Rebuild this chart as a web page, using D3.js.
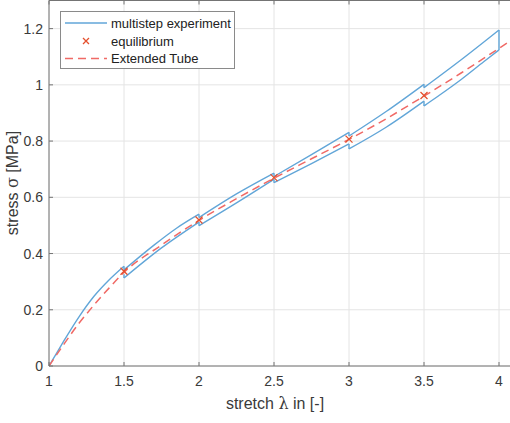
<!DOCTYPE html>
<html>
<head>
<meta charset="utf-8">
<script src="https://cdn.jsdelivr.net/npm/d3@7"></script>
<style>
  body { margin: 0; background: #fff; }
  text { font-family: "Liberation Sans", Arial, sans-serif; }
</style>
</head>
<body>
<svg id="chart" width="510" height="423"></svg>
<script>
'use strict';

// tick labels
const xTicks = [1, 1.5, 2, 2.5, 3, 3.5, 4];
const yTicks = [0, 0.2, 0.4, 0.6, 0.8, 1, 1.2];

// multistep experiment, loading branch: one piece per stretch step [lambda, stress]
const loadingPieces = [
  [[1, 0], [1.05, 0.045], [1.1, 0.09], [1.2, 0.175], [1.3, 0.248], [1.4, 0.306], [1.5, 0.355]],
  [[1.5, 0.342], [1.7, 0.43], [1.85, 0.49], [2, 0.54]],
  [[2, 0.528], [2.25, 0.612], [2.5, 0.686]],
  [[2.5, 0.674], [2.75, 0.752], [3, 0.831]],
  [[3, 0.818], [3.25, 0.906], [3.5, 1.002]],
  [[3.5, 0.99], [3.75, 1.09], [4, 1.195]],
];
// unloading branch, read from lambda = 4 back to 1.5
const unloadingPieces = [
  [[4, 1.124], [3.9, 1.083], [3.75, 1.02], [3.6, 0.962], [3.5, 0.925]],
  [[3.5, 0.942], [3.25, 0.85], [3, 0.772]],
  [[3, 0.79], [2.75, 0.72], [2.5, 0.652]],
  [[2.5, 0.664], [2.25, 0.58], [2, 0.499]],
  [[2, 0.512], [1.75, 0.42], [1.5, 0.313]],
  [[1.5, 0.326]],
];

// equilibrium points
const eqStretch = [1.5, 2, 2.5, 3, 3.5];
const eqStress = [0.337, 0.519, 0.67, 0.807, 0.962];

// extended tube model
const tubeStretch = [1, 1.1, 1.2, 1.3, 1.4, 1.5, 1.75, 2, 2.25, 2.5, 2.75, 3, 3.25, 3.5, 3.75, 4, 4.1];
const tubeStress = [0, 0.078, 0.152, 0.217, 0.277, 0.333, 0.43, 0.518, 0.595, 0.668, 0.737, 0.806, 0.88, 0.96, 1.043, 1.13, 1.165];

const blue = '#62a6d8';
const red = '#f06a66';
const axisColor = '#747474';
const textColor = '#3a3a3a';

const svg = d3.select('#chart');
const x = d3.scaleLinear().domain([1, 4.1]).range([49, 514]);
const y = d3.scaleLinear().domain([0, 1.3]).range([366, 0.5]);

// grid
svg.append('g')
  .selectAll('line')
  .data(xTicks)
  .join('line')
  .attr('x1', (d) => x(d)).attr('x2', (d) => x(d))
  .attr('y1', y(0)).attr('y2', y(1.3))
  .attr('stroke', '#e4e4e4');
svg.append('g')
  .selectAll('line')
  .data(yTicks)
  .join('line')
  .attr('x1', x(1)).attr('x2', x(4.1))
  .attr('y1', (d) => y(d)).attr('y2', (d) => y(d))
  .attr('stroke', '#e4e4e4');

// plot content, clipped to axes
svg.append('clipPath').attr('id', 'clip')
  .append('rect')
  .attr('x', x(1)).attr('y', y(1.3))
  .attr('width', x(4.1) - x(1)).attr('height', y(0) - y(1.3));
const plot = svg.append('g').attr('clip-path', 'url(#clip)');

const smooth = d3.line()
  .x((d) => x(d[0]))
  .y((d) => y(d[1]))
  .curve(d3.curveMonotoneX);
const straight = d3.line()
  .x((d) => x(d[0]))
  .y((d) => y(d[1]));

// experiment: smooth pieces, joined by the relaxation jumps
const pieces = loadingPieces.concat(unloadingPieces);
pieces.forEach((p) => {
  if (p.length > 1) {
    plot.append('path')
      .attr('d', smooth(p))
      .attr('fill', 'none')
      .attr('stroke', blue)
      .attr('stroke-width', 1.4);
  }
});
for (let i = 0; i < pieces.length - 1; i++) {
  const a = pieces[i][pieces[i].length - 1];
  const b = pieces[i + 1][0];
  plot.append('path')
    .attr('d', straight([a, b]))
    .attr('fill', 'none')
    .attr('stroke', blue)
    .attr('stroke-width', 1.4);
}

// extended tube
plot.append('path')
  .attr('d', smooth(tubeStretch.map((d, i) => [d, tubeStress[i]])))
  .attr('fill', 'none')
  .attr('stroke', red)
  .attr('stroke-width', 1.5)
  .attr('stroke-dasharray', '8,5');

// equilibrium crosses
const cross = (g, cx, cy, r) => {
  g.append('path')
    .attr('d', `M${cx - r},${cy - r}L${cx + r},${cy + r}M${cx - r},${cy + r}L${cx + r},${cy - r}`)
    .attr('stroke', '#e4502e')
    .attr('stroke-width', 1.3);
};
eqStretch.forEach((d, i) => cross(plot, x(d), y(eqStress[i]), 3.5));

// axes box lines
svg.append('line')
  .attr('x1', x(1)).attr('x2', x(4.1)).attr('y1', y(0)).attr('y2', y(0))
  .attr('stroke', axisColor);
svg.append('line')
  .attr('x1', x(1)).attr('x2', x(4.1)).attr('y1', y(1.3)).attr('y2', y(1.3))
  .attr('stroke', axisColor);
svg.append('line')
  .attr('x1', x(1)).attr('x2', x(1)).attr('y1', y(0)).attr('y2', y(1.3))
  .attr('stroke', axisColor);

// ticks (inward) and labels
xTicks.forEach((t) => {
  svg.append('line')
    .attr('x1', x(t)).attr('x2', x(t)).attr('y1', y(0)).attr('y2', y(0) - 4)
    .attr('stroke', axisColor);
  svg.append('line')
    .attr('x1', x(t)).attr('x2', x(t)).attr('y1', y(1.3)).attr('y2', y(1.3) + 4)
    .attr('stroke', axisColor);
  svg.append('text')
    .attr('x', x(t)).attr('y', 386)
    .attr('text-anchor', 'middle')
    .attr('font-size', 14)
    .attr('fill', textColor)
    .text(d3.format('~g')(t));
});
yTicks.forEach((t) => {
  svg.append('line')
    .attr('x1', x(1)).attr('x2', x(1) + 4).attr('y1', y(t)).attr('y2', y(t))
    .attr('stroke', axisColor);
  svg.append('text')
    .attr('x', 43).attr('y', y(t) + 5)
    .attr('text-anchor', 'end')
    .attr('font-size', 14)
    .attr('fill', textColor)
    .text(d3.format('~g')(t));
});

// axis titles
const xTitle = svg.append('text')
  .attr('x', 275).attr('y', 409)
  .attr('text-anchor', 'middle')
  .attr('font-size', 16)
  .attr('fill', textColor);
xTitle.append('tspan').text('stretch ');
xTitle.append('tspan').attr('font-family', '"DejaVu Serif", serif').text('λ');
xTitle.append('tspan').text(' in [-]');

const yTitle = svg.append('text')
  .attr('transform', 'translate(18,183) rotate(-90)')
  .attr('text-anchor', 'middle')
  .attr('font-size', 16)
  .attr('fill', textColor);
yTitle.append('tspan').text('stress ');
yTitle.append('tspan').attr('font-family', '"DejaVu Serif", serif').text('σ');
yTitle.append('tspan').text(' [MPa]');

// legend
const legend = svg.append('g');
legend.append('rect')
  .attr('x', 60.5).attr('y', 11.5)
  .attr('width', 174).attr('height', 57)
  .attr('fill', '#fff')
  .attr('stroke', '#8a8a8a');
const legendNames = ['multistep experiment', 'equilibrium', 'Extended Tube'];
const legendY = [23, 41, 58.5];
legend.append('line')
  .attr('x1', 65).attr('x2', 107).attr('y1', legendY[0]).attr('y2', legendY[0])
  .attr('stroke', blue).attr('stroke-width', 1.4);
cross(legend, 86, legendY[1], 3);
legend.append('line')
  .attr('x1', 65).attr('x2', 107).attr('y1', legendY[2]).attr('y2', legendY[2])
  .attr('stroke', red).attr('stroke-width', 1.5).attr('stroke-dasharray', '8,5');
legendNames.forEach((n, i) => {
  legend.append('text')
    .attr('x', 111).attr('y', legendY[i] + 4.5)
    .attr('font-size', 13)
    .attr('fill', '#222')
    .text(n);
});
</script>
</body>
</html>
